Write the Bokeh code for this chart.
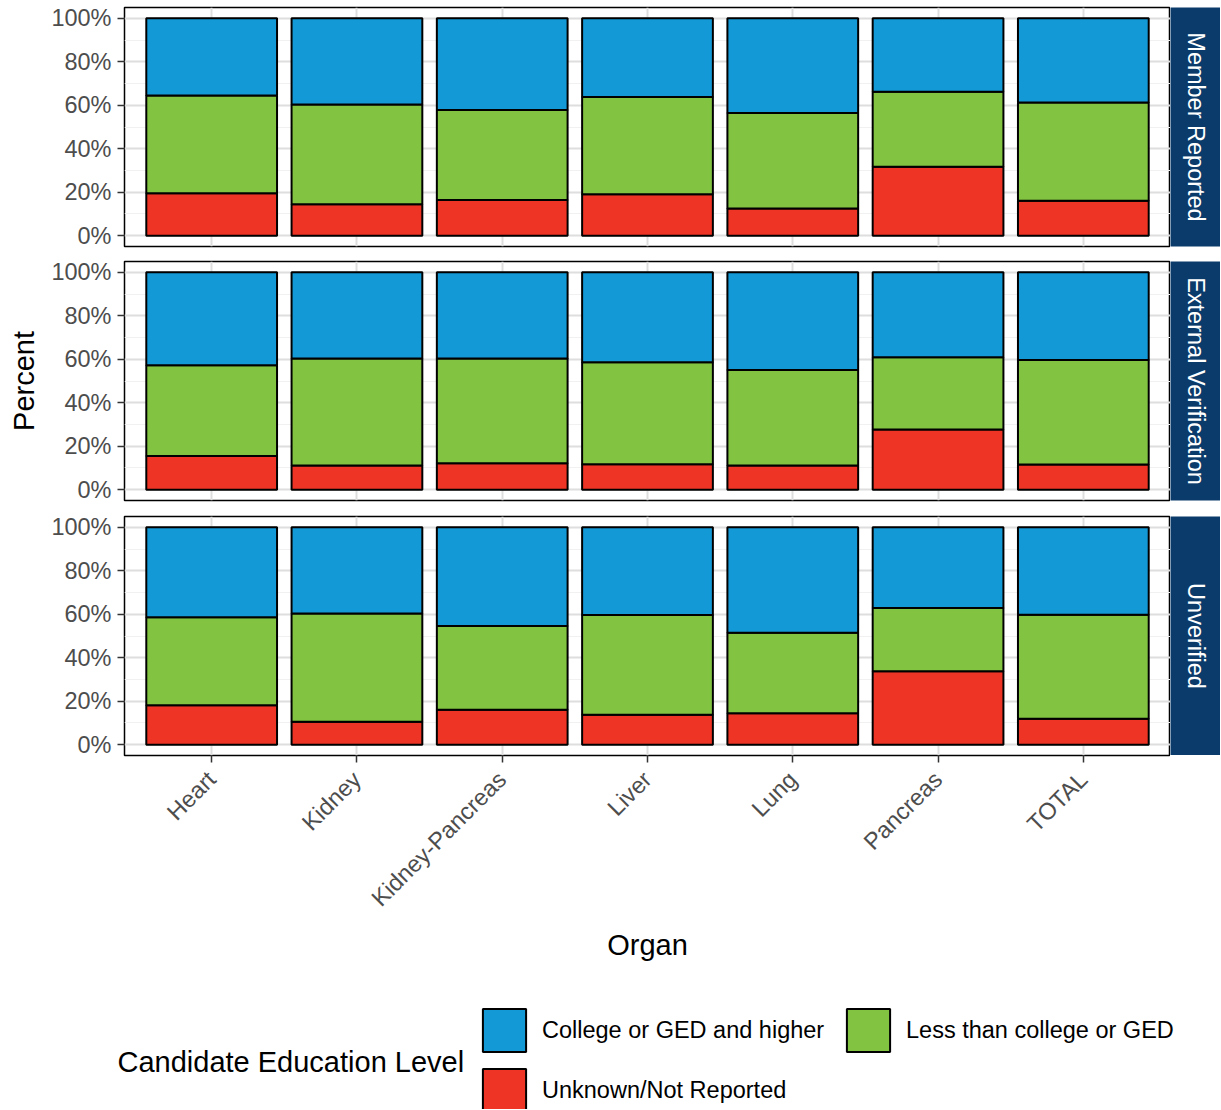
import math
from bokeh.plotting import figure
from bokeh.models import (FactorRange, Range1d, FixedTicker, NumeralTickFormatter,
                          ColumnDataSource, Legend, LegendItem, Label)
from bokeh.layouts import column, row
from bokeh.embed import file_html
from bokeh.resources import INLINE

# ---------------- data (percent) ----------------
organs = ["Heart", "Kidney", "Kidney-Pancreas", "Liver", "Lung", "Pancreas", "TOTAL"]
levels = ["College or GED and higher", "Less than college or GED", "Unknown/Not Reported"]
panels = ["Member Reported", "External Verification", "Unverified"]

member_college = [35.5, 39.6, 42.2, 36.2, 43.5, 33.8, 38.7]
member_less    = [45.0, 45.9, 41.4, 44.8, 44.0, 34.5, 45.3]
member_unknown = [19.5, 14.5, 16.4, 19.0, 12.5, 31.7, 16.0]

external_college = [42.8, 39.6, 39.6, 41.4, 44.9, 39.1, 40.3]
external_less    = [41.7, 49.3, 48.2, 46.9, 44.0, 33.2, 48.1]
external_unknown = [15.5, 11.1, 12.2, 11.7, 11.1, 27.7, 11.6]

unverified_college = [41.4, 39.7, 45.4, 40.3, 48.5, 37.1, 40.2]
unverified_less    = [40.5, 49.8, 38.5, 45.9, 37.0, 29.1, 47.9]
unverified_unknown = [18.1, 10.5, 16.1, 13.8, 14.5, 33.8, 11.9]

y_ticks = [0, 0.2, 0.4, 0.6, 0.8, 1.0]
y_minor = [0.1, 0.3, 0.5, 0.7, 0.9]

# ---------------- style ----------------
COLORS = {
    "College or GED and higher": "#1399D6",
    "Less than college or GED": "#82C341",
    "Unknown/Not Reported": "#EE3424",
}
STRIP = "#0B3B6B"
FONT = "Liberation Sans"
SMALL = "23.5px"
BIG = "29px"
FW, FH = 1046, 239
LEFT = 124
SW = 50
TOPS = [7, 8, 8]
BOTS = [7, 8, 244]

panel_data = {
    "Member Reported": (member_college, member_less, member_unknown),
    "External Verification": (external_college, external_less, external_unknown),
    "Unverified": (unverified_college, unverified_less, unverified_unknown),
}
sources = {}


def make_panel(name, idx):
    college, less, unknown = panel_data[name]
    src = ColumnDataSource(dict(
        organ=organs,
        unknown=[v / 100 for v in unknown],
        less=[v / 100 for v in less],
        college=[v / 100 for v in college],
    ))
    sources[name] = src
    last = idx == len(panels) - 1
    p = figure(x_range=FactorRange(*organs, range_padding=0.1, range_padding_units="absolute"),
               y_range=Range1d(-0.05, 1.05),
               frame_width=FW, frame_height=FH,
               min_border_left=LEFT, min_border_right=0,
               min_border_top=TOPS[idx], min_border_bottom=BOTS[idx],
               output_backend="svg", toolbar_location=None,
               background_fill_color="white", border_fill_color="white")
    p.vbar_stack(["unknown", "less", "college"], x="organ", width=0.9, source=src,
                 fill_color=[COLORS[levels[2]], COLORS[levels[1]], COLORS[levels[0]]],
                 line_color="black", line_width=2)
    p.outline_line_color = "black"
    p.outline_line_width = 1.5
    p.xgrid.grid_line_color = "#DEDEDE"
    p.xgrid.grid_line_width = 2
    p.ygrid.grid_line_color = "#DEDEDE"
    p.ygrid.grid_line_width = 2
    p.ygrid.minor_grid_line_color = "#F1F1F1"
    p.ygrid.minor_grid_line_width = 1
    p.yaxis.ticker = FixedTicker(ticks=y_ticks, minor_ticks=y_minor)
    p.yaxis.formatter = NumeralTickFormatter(format="0%")
    for ax in (p.xaxis[0], p.yaxis[0]):
        ax.axis_line_color = None
        ax.major_tick_line_color = "#333333"
        ax.major_tick_line_width = 1.5
        ax.major_tick_out = 7
        ax.major_tick_in = 0
        ax.minor_tick_line_color = None
        ax.major_label_text_font = FONT
        ax.major_label_text_font_size = SMALL
        ax.major_label_text_color = "#4D4D4D"
        ax.major_label_standoff = 6
        ax.axis_label_text_font = FONT
        ax.axis_label_text_font_size = BIG
        ax.axis_label_text_font_style = "normal"
        ax.axis_label_text_color = "black"
    if idx == 1:
        p.yaxis.axis_label = "Percent"
        p.yaxis.axis_label_standoff = 8
    if last:
        p.xaxis.major_label_orientation = math.pi / 4
        p.xaxis.major_label_standoff = 13
        p.xaxis.axis_label = "Organ"
        p.xaxis.axis_label_standoff = 6
    else:
        p.xaxis.visible = False

    s = figure(x_range=Range1d(0, 1), y_range=Range1d(0, 1),
               frame_width=SW, frame_height=FH,
               min_border_left=0, min_border_right=0,
               min_border_top=TOPS[idx], min_border_bottom=0 if last else BOTS[idx],
               x_axis_type=None, y_axis_type=None,
               output_backend="svg", toolbar_location=None,
               background_fill_color=STRIP, border_fill_color="white")
    s.outline_line_color = None
    s.grid.visible = False
    s.add_layout(Label(x=0.5, y=0.5, text=name, angle=-math.pi / 2,
                       text_align="center", text_baseline="middle",
                       text_color="white", text_font=FONT, text_font_size=SMALL))
    return row(p, s, spacing=0)


rows = [make_panel(n, i) for i, n in enumerate(panels)]

# ---------------- legend ----------------
LW, LHh = LEFT + FW + SW, 110
lf = figure(width=LW, height=LHh,
            x_range=FactorRange(*organs), y_range=Range1d(0, 1),
            min_border=0, x_axis_type=None, y_axis_type=None,
            output_backend="svg", toolbar_location=None)
lf.outline_line_color = None
lf.grid.visible = False
hidden = lf.vbar_stack(["unknown", "less", "college"], x="organ", width=0.9,
                       source=sources[panels[0]],
                       fill_color=[COLORS[levels[2]], COLORS[levels[1]], COLORS[levels[0]]],
                       line_color="black", line_width=2)
for r in hidden:
    r.visible = False
by_level = {levels[2]: hidden[0], levels[1]: hidden[1], levels[0]: hidden[2]}
items = [LegendItem(label=lvl, renderers=[by_level[lvl]]) for lvl in levels]
leg = Legend(items=items, location=(477, -8), orientation="horizontal", ncols=2,
             glyph_width=54, glyph_height=54, label_standoff=11, spacing=6,
             label_width=293,
             padding=0, margin=0, border_line_color=None, background_fill_alpha=0,
             label_text_font=FONT, label_text_font_size=SMALL, label_text_color="black")
lf.add_layout(leg)
lf.add_layout(Label(x=117, y=48, x_units="screen", y_units="screen",
                    text="Candidate Education Level",
                    text_align="left", text_baseline="middle",
                    text_font=FONT, text_font_size=BIG, text_color="black"))

layout = column(*rows, lf, spacing=0)
open("out.html", "w").write(file_html(layout, INLINE))
